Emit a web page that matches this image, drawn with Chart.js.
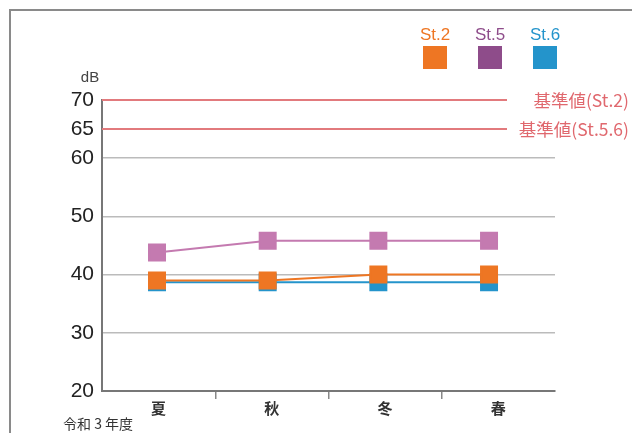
<!DOCTYPE html>
<html>
<head>
<meta charset="utf-8">
<script src="https://cdn.jsdelivr.net/npm/chart.js@4/dist/chart.umd.min.js"></script>
<style>
html,body{margin:0;padding:0;background:#fff;}
#wrap{position:relative;width:632px;height:433px;overflow:hidden;}
#frame{position:absolute;left:9px;top:9px;width:700px;height:500px;border-left:2px solid #8a8a8a;border-top:2px solid #8a8a8a;box-sizing:border-box;}
canvas{position:absolute;left:0;top:0;}
</style>
</head>
<body>
<div id="wrap">
<div id="frame"></div>
<canvas id="c" width="632" height="433"></canvas>
</div>
<script>
const categories = ['夏', '秋', '冬', '春'];
const seriesLabels = ['St.2', 'St.5', 'St.6'];
const st2Values = [39, 39, 40, 40];
const st5Values = [43.8, 45.8, 45.8, 45.8];
const st6Values = [38.7, 38.7, 38.7, 38.7];
const yTickValues = [20, 30, 40, 50, 60, 65, 70];
const limitValues = [70, 65];
const limitLabels = ['基準値(St.2)', '基準値(St.5.6)'];
const yUnit = 'dB';
const yearLabel = '令和 3 年度';

const lineColors = ['#EE7623', '#C47AB0', '#2494CB'];
const legendColors = ['#EE7623', '#8E4C8A', '#2494CB'];
const numFont = "'Liberation Sans',Arial,sans-serif";
const cjkFont = "'Noto Sans CJK JP','Noto Sans',sans-serif";

const toPoints = arr => arr.map((v, i) => ({ x: i, y: v }));

const overlay = {
  id: 'overlay',
  afterDraw(chart) {
    const ctx = chart.ctx;
    const area = chart.chartArea;
    const y = chart.scales.y;
    ctx.save();
    limitValues.forEach((v, i) => {
      const py = y.getPixelForValue(v);
      ctx.strokeStyle = '#E27A7D';
      ctx.lineWidth = 2;
      ctx.beginPath();
      ctx.moveTo(area.left, py);
      ctx.lineTo(507, py);
      ctx.stroke();
      ctx.fillStyle = '#E0686E';
      ctx.font = "17.5px " + cjkFont;
      ctx.textAlign = 'right';
      ctx.textBaseline = 'middle';
      ctx.fillText(limitLabels[i], 629, py);
    });
    ctx.fillStyle = '#444';
    ctx.font = "15px 'Liberation Sans',sans-serif";
    ctx.textAlign = 'center';
    ctx.textBaseline = 'middle';
    ctx.fillText(yUnit, 90, 78);
    ctx.font = "14px " + cjkFont;
    ctx.fillStyle = '#333';
    ctx.textAlign = 'left';
    ctx.fillText(yearLabel, 63, 424);
    const cx = [435, 490, 545];
    seriesLabels.forEach((lab, i) => {
      ctx.fillStyle = legendColors[i];
      ctx.font = "17px 'Liberation Sans',sans-serif";
      ctx.textAlign = 'center';
      ctx.textBaseline = 'middle';
      ctx.fillText(lab, cx[i], 35);
      ctx.fillRect(cx[i] - 12, 46, 24, 23);
    });
    ctx.restore();
  }
};

new Chart(document.getElementById('c'), {
  type: 'line',
  data: {
    labels: categories,
    datasets: [
      { label: seriesLabels[0], data: toPoints(st2Values) },
      { label: seriesLabels[1], data: toPoints(st5Values) },
      { label: seriesLabels[2], data: toPoints(st6Values) }
    ].map((d, i) => Object.assign(d, {
      xAxisID: 'xd',
      borderColor: lineColors[i],
      backgroundColor: lineColors[i],
      pointBackgroundColor: lineColors[i],
      pointBorderColor: lineColors[i],
      pointStyle: 'rect',
      pointRadius: 11.3,
      pointHoverRadius: 11.3,
      borderWidth: 2,
      tension: 0
    }))
  },
  options: {
    responsive: false,
    animation: false,
    devicePixelRatio: 1,
    layout: { padding: { top: 100, right: 77, left: 0, bottom: 0 } },
    plugins: { legend: { display: false }, tooltip: { enabled: false } },
    scales: {
      x: {
        type: 'category',
        offset: true,
        grid: {
          offset: true, drawOnChartArea: false, drawTicks: true, tickLength: 8, lineWidth: 1.5,
          color: ctx => (ctx.type === 'tick' && ctx.index > 0) ? '#888' : 'rgba(0,0,0,0)'
        },
        border: { color: '#777', width: 2 },
        ticks: { color: '#333', font: { family: cjkFont, size: 15, weight: 'bold' }, padding: 0, maxRotation: 0 },
        afterFit(s) { s.height = 42; }
      },
      xd: {
        type: 'linear',
        display: false,
        min: -0.497,
        max: 3.596
      },
      y: {
        min: 20, max: 70,
        afterBuildTicks(s) { s.ticks = yTickValues.map(v => ({ value: v })); },
        grid: {
          drawTicks: false,
          color: ctx => (ctx.tick && [30, 40, 50, 60].includes(ctx.tick.value)) ? '#BBBBBB' : 'rgba(0,0,0,0)',
          lineWidth: 1.5
        },
        border: { color: '#777', width: 2 },
        ticks: { color: '#222', font: { family: numFont, size: 21 }, padding: 8 },
        afterFit(s) { s.width = 102; }
      }
    }
  },
  plugins: [overlay]
});
</script>
</body>
</html>
